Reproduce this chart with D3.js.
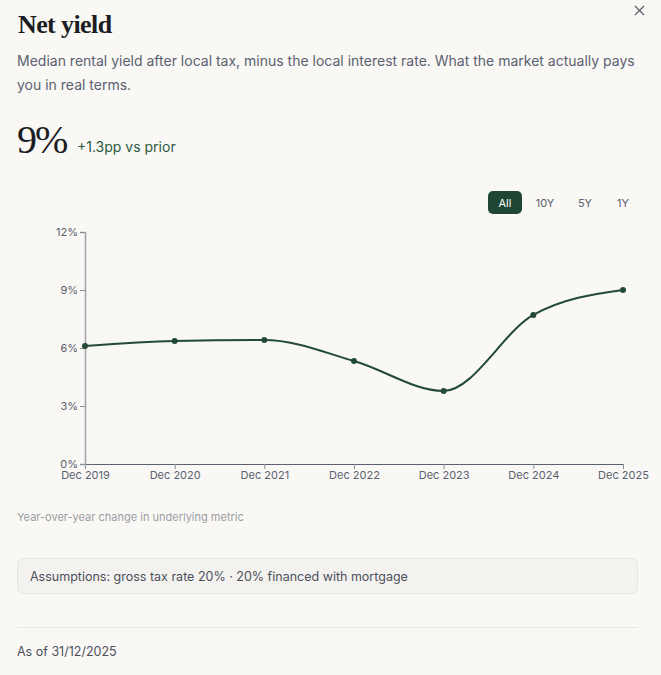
<!DOCTYPE html>
<html>
<head>
<meta charset="utf-8">
<script src="https://cdn.jsdelivr.net/npm/d3@7"></script>
<style>
  body { margin: 0; background: #f9f8f5; font-family: Inter, "Noto Sans", sans-serif; }
  .wrap { position: relative; width: 661px; height: 675px; overflow: hidden; }
  .abs { position: absolute; }
  .title { left: 18px; top: 10px; font-family: "Liberation Serif", serif; font-weight: bold; font-size: 26px; letter-spacing: -0.6px; color: #1b1d22; }
  .sub { left: 17px; top: 49px; width: 630px; font-size: 14px; line-height: 24px; color: #5b6170; }
  .big { left: 17px; top: 116px; font-family: "Liberation Serif", serif; font-size: 40px; letter-spacing: -2px; color: #1b1d22; }
  .delta { left: 77px; top: 138px; font-size: 14px; color: #2d5a41; }
  .note { left: 17px; top: 510px; font-size: 11px; color: #9a9da3; }
  .box { left: 17px; top: 558px; width: 621px; height: 36px; border: 1px solid #e6e5e0; background: #f3f2ee; border-radius: 6px; box-sizing: border-box; }
  .box span { position: absolute; left: 12px; top: 10px; font-size: 12.5px; color: #4b505c; }
  .rule { left: 17px; top: 627px; width: 621px; height: 1px; background: #e8e7e2; }
  .asof { left: 17px; top: 644px; font-size: 12.5px; color: #4b505c; }
</style>
</head>
<body>
<div class="wrap" id="wrap">
  <div class="abs title">Net yield</div>
  <div class="abs sub">Median rental yield after local tax, minus the local interest rate. What the market actually pays you in real terms.</div>
  <div class="abs big">9%</div>
  <div class="abs delta">+1.3pp vs prior</div>
  <div class="abs note">Year-over-year change in underlying metric</div>
  <div class="abs box"><span>Assumptions: gross tax rate 20% · 20% financed with mortgage</span></div>
  <div class="abs rule"></div>
  <div class="abs asof">As of 31/12/2025</div>
</div>
<script>
const years = ["Dec 2019", "Dec 2020", "Dec 2021", "Dec 2022", "Dec 2023", "Dec 2024", "Dec 2025"];
const values = [6.1, 6.36, 6.41, 5.33, 3.78, 7.71, 9.0];
const yTicks = [0, 3, 6, 9, 12];
const ranges = ["All", "10Y", "5Y", "1Y"];

const svg = d3.select("#wrap").append("svg")
  .attr("width", 661).attr("height", 675)
  .style("position", "absolute").style("left", "0px").style("top", "0px");

// close icon
svg.append("path")
  .attr("d", "M635,6L644,15M644,6L635,15")
  .style("stroke", "#5f636c").style("stroke-width", 1.3).style("fill", "none");

// range buttons
const btnX = [488, 531, 571, 609];
const btnW = [34, 28, 28, 28];
const btns = svg.selectAll("g.btn").data(ranges).enter().append("g")
  .attr("transform", (d, i) => `translate(${btnX[i]},191)`);
btns.filter((d, i) => i === 0).append("rect")
  .attr("width", btnW[0]).attr("height", 23).attr("rx", 5)
  .style("fill", "#1f4632");
btns.append("text")
  .attr("x", d => btnW[ranges.indexOf(d)] / 2)
  .attr("y", 16)
  .attr("text-anchor", "middle")
  .style("font-size", "11px")
  .style("fill", d => ranges.indexOf(d) === 0 ? "#ffffff" : "#5b6170")
  .text(d => d);

const x = d3.scalePoint().domain(years).range([85, 623]);
const y = d3.scaleLinear().domain([0, 12]).range([464, 232]);

svg.append("g")
  .attr("transform", "translate(0,464)")
  .call(d3.axisBottom(x).tickSize(5).tickPadding(2))
  .call(g => g.select(".domain").style("stroke", "#5b6170"))
  .call(g => g.selectAll(".tick line").style("stroke", "#8a8f99"))
  .call(g => g.selectAll("text").style("font-family", "Inter, sans-serif").style("font-size", "11px").style("fill", "#5b6170"));

svg.append("g")
  .attr("transform", "translate(85,0)")
  .call(d3.axisLeft(y).tickValues(yTicks).tickFormat(d => d + "%").tickSize(5).tickPadding(2))
  .call(g => g.select(".domain").style("stroke", "#a3a6ad").style("stroke-width", 1.6))
  .call(g => g.selectAll(".tick line").style("stroke", "#8a8f99"))
  .call(g => g.selectAll("text").style("font-family", "Inter, sans-serif").style("font-size", "11px").style("fill", "#5b6170"));

const data = years.map((d, i) => ({ k: d, v: values[i] }));

svg.append("path")
  .datum(data)
  .attr("d", d3.line().x(d => x(d.k)).y(d => y(d.v)).curve(d3.curveMonotoneX))
  .style("fill", "none")
  .style("stroke", "#234a36")
  .style("stroke-width", 2);

svg.selectAll("circle")
  .data(data)
  .enter()
  .append("circle")
  .attr("cx", d => x(d.k))
  .attr("cy", d => y(d.v))
  .attr("r", 3)
  .style("fill", "#234a36");
</script>
</body>
</html>
